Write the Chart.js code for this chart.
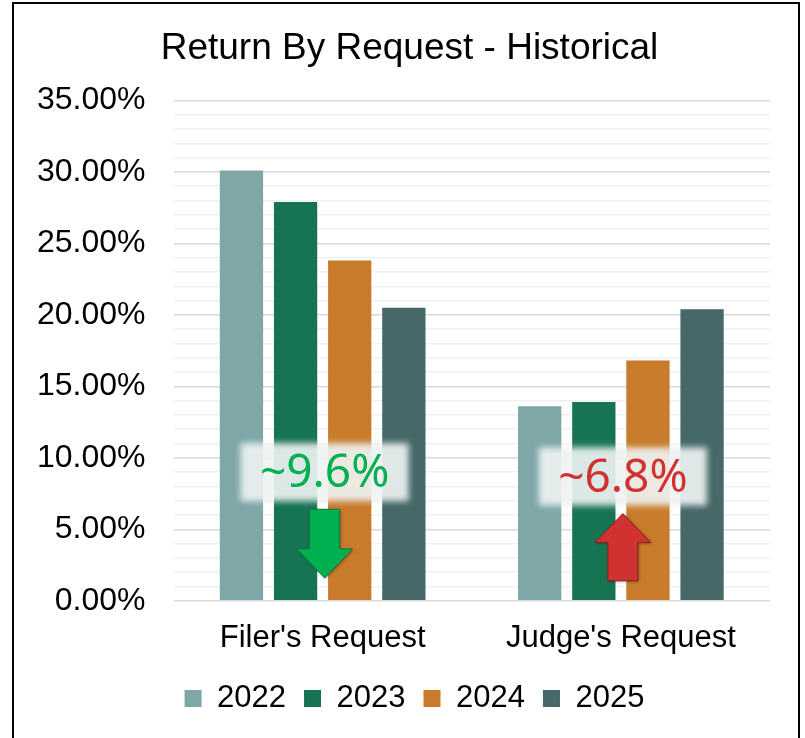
<!DOCTYPE html>
<html>
<head>
<meta charset="utf-8">
<script src="https://cdn.jsdelivr.net/npm/chart.js@4.4.1/dist/chart.umd.min.js"></script>
<style>
  html, body { margin: 0; padding: 0; background: #fff; }
  #wrap { width: 805px; height: 738px; position: relative; }
</style>
</head>
<body>
<div id="wrap"><canvas id="myChart" width="805" height="738"></canvas></div>
<script>
// values (percent)
var categories = ["Filer's Request", "Judge's Request"];
var years = ['2022', '2023', '2024', '2025'];
var values2022 = [30.1, 13.6];
var values2023 = [27.9, 13.9];
var values2024 = [23.8, 16.8];
var values2025 = [20.5, 20.4];
var yearColors = ['#7fa7a8', '#177452', '#c87b2a', '#466868'];

// the two call-outs: label, category, box value, arrow from/to value
var notes = [
  { text: '~9.6%', cat: 0, at: 9.0, from: 6.4, to: 1.6, color: '#00b050', edge: '#0b7a3c' },
  { text: '~6.8%', cat: 1, at: 8.7, from: 1.4, to: 6.1, color: '#d03232', edge: '#8a1f1f' }
];

var font = "'Liberation Sans', Arial, sans-serif";

var notesPlugin = {
  id: 'notes',
  afterLayout: function(chart) {
    // title and legend sit a bit right of the plot centre in the original
    chart.titleBlock.left += 20;
    chart.titleBlock.right += 20;
    chart.legend.left += 25;
    chart.legend.right += 25;
  },
  afterDatasetsDraw: function(chart) {
    var ctx = chart.ctx;
    var x = chart.scales.x, y = chart.scales.y;
    notes.forEach(function(n) {
      var cx = x.getPixelForValue(n.cat) + 2;
      var cy = y.getPixelForValue(n.at);
      // blurred white box
      ctx.save();
      ctx.filter = 'blur(3px)';
      ctx.fillStyle = 'rgba(238,242,242,0.92)';
      ctx.fillRect(cx - 84, cy - 29, 168, 58);
      ctx.restore();
      ctx.save();
      ctx.fillStyle = n.color;
      ctx.font = "46px 'Noto Sans', sans-serif";
      ctx.textAlign = 'center';
      ctx.textBaseline = 'middle';
      ctx.fillText(n.text, cx, cy + 2);
      ctx.restore();
      // arrow
      var y0 = y.getPixelForValue(n.from), y1 = y.getPixelForValue(n.to);
      var dir = y1 > y0 ? 1 : -1;
      var headLen = 29, shaft = 15, head = 28;
      var hb = y1 - dir * headLen;
      ctx.save();
      ctx.shadowColor = 'rgba(0,0,0,0.35)';
      ctx.shadowBlur = 3;
      ctx.shadowOffsetX = 1;
      ctx.shadowOffsetY = 1;
      ctx.beginPath();
      ctx.moveTo(cx - shaft, y0);
      ctx.lineTo(cx + shaft, y0);
      ctx.lineTo(cx + shaft, hb);
      ctx.lineTo(cx + head, hb);
      ctx.lineTo(cx, y1);
      ctx.lineTo(cx - head, hb);
      ctx.lineTo(cx - shaft, hb);
      ctx.closePath();
      ctx.fillStyle = n.color;
      ctx.fill();
      ctx.shadowColor = 'transparent';
      ctx.strokeStyle = n.edge;
      ctx.lineWidth = 1;
      ctx.stroke();
      ctx.restore();
    });
  },
  afterDraw: function(chart) {
    // frame around the chart
    var ctx = chart.ctx;
    ctx.save();
    ctx.strokeStyle = '#000';
    ctx.lineWidth = 2;
    ctx.beginPath();
    ctx.moveTo(13, 738);
    ctx.lineTo(13, 3);
    ctx.lineTo(799, 3);
    ctx.lineTo(799, 738);
    ctx.stroke();
    ctx.restore();
  }
};

var datasets = [values2022, values2023, values2024, values2025].map(function(vals, i) {
  return {
    label: years[i],
    data: vals,
    backgroundColor: yearColors[i],
    borderWidth: 0,
    categoryPercentage: 0.726,
    barPercentage: 0.8
  };
});

var ctx = document.getElementById('myChart');
var myChart = new Chart(ctx, {
  type: 'bar',
  data: { labels: categories, datasets: datasets },
  plugins: [notesPlugin],
  options: {
    responsive: false,
    animation: false,
    layout: { padding: { left: 9, right: 35, top: 10, bottom: 14 } },
    plugins: {
      title: {
        display: true,
        text: 'Return By Request - Historical',
        color: '#000',
        font: { family: font, size: 37, weight: 'normal' },
        padding: { top: 17, bottom: 29 }
      },
      legend: {
        position: 'bottom',
        labels: {
          color: '#000',
          boxWidth: 17,
          boxHeight: 17,
          padding: 18,
          font: { family: font, size: 31 }
        }
      },
      tooltip: { enabled: false }
    },
    scales: {
      x: {
        grid: { display: false, drawTicks: false },
        border: { display: false },
        ticks: { color: '#000', padding: 19, maxRotation: 0, font: { family: font, size: 31 } },
        afterFit: function(scale) { scale.height -= 11; }
      },
      y: {
        min: 0,
        max: 35,
        border: { display: false },
        grid: {
          drawTicks: false,
          lineWidth: 1.5,
          color: function(c) {
            return c.tick && c.tick.value % 5 === 0 ? '#d9d9d9' : '#f0f0f0';
          }
        },
        ticks: {
          stepSize: 1,
          autoSkip: false,
          padding: 28,
          color: '#000',
          font: { family: font, size: 32 },
          callback: function(v) {
            return v % 5 === 0 ? v.toFixed(2) + '%' : '';
          }
        }
      }
    }
  }
});
</script>
</body>
</html>
